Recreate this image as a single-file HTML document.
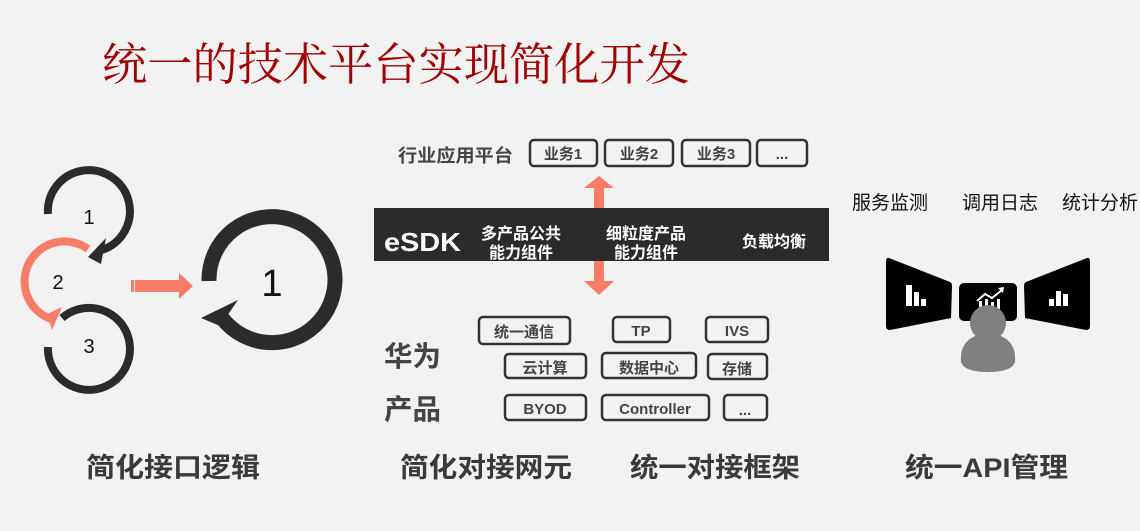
<!DOCTYPE html>
<html><head><meta charset="utf-8"><style>
html,body{margin:0;padding:0;background:#f2f2f2;}
svg{display:block;}
.b{font-family:"Liberation Sans","Noto Sans CJK SC",sans-serif;font-weight:bold;}
.n{font-family:"Liberation Sans","Noto Sans CJK SC",sans-serif;}
</style></head><body>
<svg width="1140" height="531" viewBox="0 0 1140 531" xmlns="http://www.w3.org/2000/svg">
<rect width="1140" height="531" fill="#f2f2f2"/>
<text x="102" y="80" font-family="'Liberation Serif','Noto Serif CJK SC',serif" font-size="45" fill="#a00000" textLength="588" lengthAdjust="spacingAndGlyphs">统一的技术平台实现简化开发</text>

<!-- left loops -->
<g fill="none" stroke-width="8" stroke="#2b2b2b">
<path d="M48,214 A41,41 0 1 1 102,250"/>
<path d="M48,347 A41,41 0 1 0 62,318"/>
</g>
<path d="M88,249 A40,40 0 1 0 54,320" fill="none" stroke="#f87c68" stroke-width="8"/>
<polygon points="88,257 106,238 101,264" fill="#2b2b2b"/>
<polygon points="47,314 62,307 52,330" fill="#f87c68"/>
<text x="89" y="224" class="n" font-size="20" text-anchor="middle" fill="#111">1</text>
<text x="58" y="289" class="n" font-size="20" text-anchor="middle" fill="#111">2</text>
<text x="89" y="353" class="n" font-size="20" text-anchor="middle" fill="#111">3</text>
<!-- orange arrow -->
<rect x="131" y="280" width="3" height="12" fill="#f87c68"/>
<rect x="135" y="280" width="45" height="12" fill="#f87c68"/>
<polygon points="179,273 193,286 179,299" fill="#f87c68"/>
<!-- big loop -->
<path d="M209,281 A63,63 0 1 1 222,318" fill="none" stroke="#2b2b2b" stroke-width="15"/>
<polygon points="201,318 238,300 220,326" fill="#2b2b2b"/>
<text x="272" y="296" class="n" font-size="38" text-anchor="middle" fill="#111">1</text>

<!-- middle -->
<text x="398" y="162" class="b" font-size="18" fill="#444" textLength="115" lengthAdjust="spacingAndGlyphs">行业应用平台</text>
<g fill="none" stroke="#333" stroke-width="2.5">
<rect x="530" y="140" width="67" height="26" rx="4"/>
<rect x="605" y="140" width="68" height="26" rx="4"/>
<rect x="682" y="140" width="68" height="26" rx="4"/>
<rect x="757" y="140" width="50" height="26" rx="4"/>
</g>
<g class="b" font-size="15" fill="#444" text-anchor="middle">
<text x="563" y="159">业务1</text><text x="639" y="159">业务2</text><text x="716" y="159">业务3</text><text x="782" y="159">...</text>
</g>
<rect x="594" y="186" width="10" height="23" fill="#f87c68"/>
<polygon points="584,188 599,176 614,188" fill="#f87c68"/>
<rect x="594" y="260" width="10" height="24" fill="#f87c68"/>
<polygon points="584,281 599,295 614,281" fill="#f87c68"/>
<rect x="374" y="208" width="455" height="53" fill="#2b2b2b"/>
<text x="384" y="251" class="b" font-size="26" fill="#fff" textLength="77" lengthAdjust="spacingAndGlyphs">eSDK</text>
<g class="b" font-size="16" fill="#fff" text-anchor="middle">
<text x="521" y="239">多产品公共</text><text x="521" y="258">能力组件</text>
<text x="646" y="239">细粒度产品</text><text x="646" y="258">能力组件</text>
<text x="774" y="247">负载均衡</text>
</g>
<text x="384" y="366" class="b" font-size="28" fill="#444" textLength="57" lengthAdjust="spacingAndGlyphs">华为</text>
<text x="384" y="419" class="b" font-size="28" fill="#444" textLength="57" lengthAdjust="spacingAndGlyphs">产品</text>
<g fill="none" stroke="#333" stroke-width="2.5">
<rect x="479" y="317" width="91" height="27" rx="4"/>
<rect x="613" y="317" width="57" height="25" rx="4"/>
<rect x="706" y="317" width="62" height="25" rx="4"/>
<rect x="505" y="354" width="81" height="24" rx="4"/>
<rect x="602" y="353" width="94" height="25" rx="4"/>
<rect x="708" y="354" width="59" height="25" rx="4"/>
<rect x="505" y="395" width="81" height="25" rx="4"/>
<rect x="602" y="395" width="107" height="25" rx="4"/>
<rect x="724" y="395" width="43" height="25" rx="4"/>
</g>
<g class="b" font-size="15" fill="#444" text-anchor="middle">
<text x="524" y="337">统一通信</text><text x="641" y="336">TP</text><text x="737" y="336">IVS</text>
<text x="545" y="373">云计算</text><text x="649" y="373">数据中心</text><text x="737" y="374">存储</text>
<text x="545" y="414">BYOD</text><text x="655" y="414">Controller</text><text x="745" y="415">...</text>
</g>

<!-- right -->
<g class="n" font-size="19" fill="#111">
<text x="852" y="209" textLength="76" lengthAdjust="spacingAndGlyphs">服务监测</text><text x="962" y="209" textLength="76" lengthAdjust="spacingAndGlyphs">调用日志</text><text x="1062" y="209" textLength="76" lengthAdjust="spacingAndGlyphs">统计分析</text>
</g>
<path d="M889,258 L950,282 Q952,283 952,286 L951,318 L890,330 Q886,330 886,326 L886,262 Q886,257 889,258 Z" fill="#000"/>
<path d="M1087,258 L1026,282 Q1024,283 1024,286 L1025,318 L1086,330 Q1090,330 1090,326 L1090,262 Q1090,257 1087,258 Z" fill="#000"/>
<rect x="959" y="283" width="58" height="38" rx="5" fill="#000"/>
<g fill="#fff">
<rect x="906" y="285" width="6" height="21"/><rect x="914" y="292" width="5" height="14"/><rect x="921" y="299" width="5" height="7"/>
<rect x="1049" y="299" width="5" height="7"/><rect x="1056" y="291" width="5" height="15"/><rect x="1063" y="294" width="5" height="12"/>
<rect x="979" y="301" width="3" height="8"/><rect x="985" y="299" width="3" height="10"/><rect x="991" y="302" width="3" height="7"/><rect x="997" y="299" width="3" height="10"/>
</g>
<polyline points="977,301 985,294 992,298 1002,290" fill="none" stroke="#fff" stroke-width="2"/>
<polygon points="998,288 1004,287 1003,293" fill="#fff"/>
<circle cx="988" cy="323" r="18" fill="#808080"/>
<path d="M961,362 Q959,336 988,333 Q1017,336 1015,362 Q1012,372 988,372 Q964,372 961,362 Z" fill="#808080"/>

<g class="b" font-size="27" fill="#3a3a3a">
<text x="86" y="477" textLength="174" lengthAdjust="spacingAndGlyphs">简化接口逻辑</text>
<text x="400" y="477" textLength="172" lengthAdjust="spacingAndGlyphs">简化对接网元</text>
<text x="630" y="477" textLength="170" lengthAdjust="spacingAndGlyphs">统一对接框架</text>
<text x="905" y="477" textLength="163" lengthAdjust="spacingAndGlyphs">统一API管理</text>
</g>
</svg>
</body></html>
